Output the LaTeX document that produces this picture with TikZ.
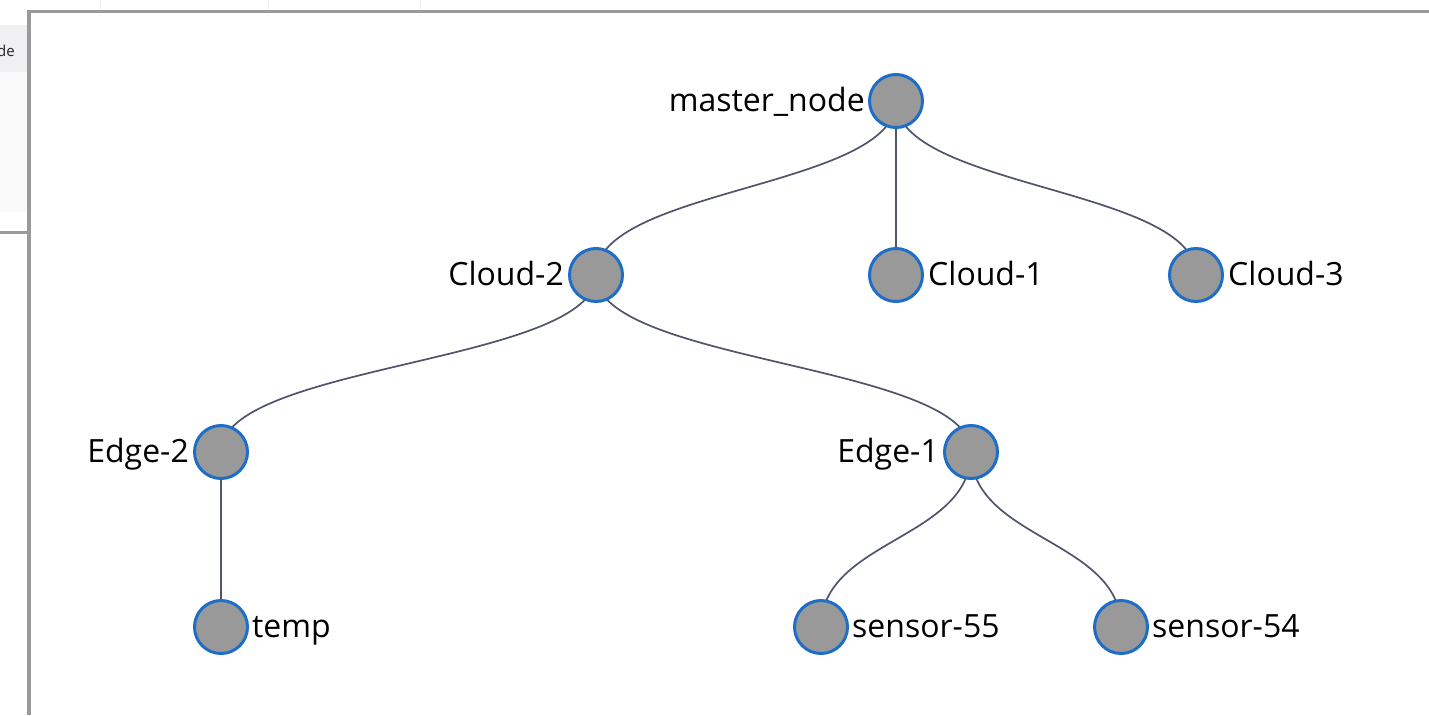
\documentclass[tikz,border=0pt]{standalone}
\usepackage{fontspec}
\setmainfont{Open Sans}
\usetikzlibrary{calc,backgrounds}
\definecolor{nodefill}{HTML}{999999}
\definecolor{nodeblue}{HTML}{1E6EC8}
\definecolor{linkcol}{HTML}{50556A}
\definecolor{framegray}{HTML}{9A9A9A}
\definecolor{panelhead}{HTML}{F0F0F3}
\definecolor{panelbody}{HTML}{FAFAFA}
\definecolor{faintline}{HTML}{EEEEEE}
\tikzset{
  tnode/.style={circle, fill=nodefill, draw=nodeblue, line width=3pt, minimum size=53pt, inner sep=0pt},
  lbl/.style={font=\fontsize{32}{38}\selectfont, inner sep=0pt, text=black},
  link/.style={draw=linkcol, line width=1.7pt},
  frameline/.style={draw=framegray, line width=3.3pt}
}
\begin{document}
\begin{tikzpicture}[x=1pt,y=-1pt]
\useasboundingbox (0,0) rectangle (1429,715);

% nodes
\node[tnode] (mn) at (896,101) {};
\node[tnode] (c2) at (596,275) {};
\node[tnode] (c1) at (896,275) {};
\node[tnode] (c3) at (1196,275) {};
\node[tnode] (e2) at (221,452) {};
\node[tnode] (e1) at (971,452) {};
\node[tnode] (tp) at (221,627) {};
\node[tnode] (s55) at (821,627) {};
\node[tnode] (s54) at (1121,627) {};

% labels
\node[lbl, anchor=base east] (lmn) at ($(mn.center)+(-31,10)$) {master\_node};
\node[lbl, anchor=base east] (lc2) at ($(c2.center)+(-32,10)$) {Cloud-2};
\node[lbl, anchor=base west] (lc1) at ($(c1.center)+(32,10)$) {Cloud-1};
\node[lbl, anchor=base west] (lc3) at ($(c3.center)+(32,10)$) {Cloud-3};
\node[lbl, anchor=base east] (le2) at ($(e2.center)+(-32,10)$) {Edge-2};
\node[lbl, anchor=base east] (le1) at ($(e1.center)+(-32,10)$) {Edge-1};
\node[lbl, anchor=base west] (ltp) at ($(tp.center)+(31,10)$) {temp};
\node[lbl, anchor=base west] (ls55) at ($(s55.center)+(31,10)$) {sensor-55};
\node[lbl, anchor=base west] (ls54) at ($(s54.center)+(31,10)$) {sensor-54};

\begin{scope}[on background layer]
% background window pieces
\fill[white] (0,0) rectangle (1429,715);
\fill[panelhead] (0,25) rectangle (27,72);
\fill[panelbody] (0,72) rectangle (27,212);
\node[anchor=base east, inner sep=0pt, font=\fontsize{15}{18}\selectfont, text=black!85] (de) at (15,56) {de};
\draw[faintline, line width=1pt] (100,0) -- (100,10) (268,0) -- (268,10) (420,0) -- (420,10);
\draw[frameline] (0,232.8) -- (29,232.8);
\draw[frameline] (27.3,11.6) -- (1429,11.6);
\draw[frameline] (29,10) -- (29,715);
% links
\foreach \a/\b in {mn/c2, mn/c1, mn/c3, c2/e2, c2/e1, e2/tp, e1/s55, e1/s54}{
  \coordinate (m\a\b) at ($(\a.center)!.5!(\b.center)$);
  \draw[link] (\a.center) .. controls (\a.center |- m\a\b) and (\b.center |- m\a\b) .. (\b.center);
}
\end{scope}
\end{tikzpicture}
\end{document}
